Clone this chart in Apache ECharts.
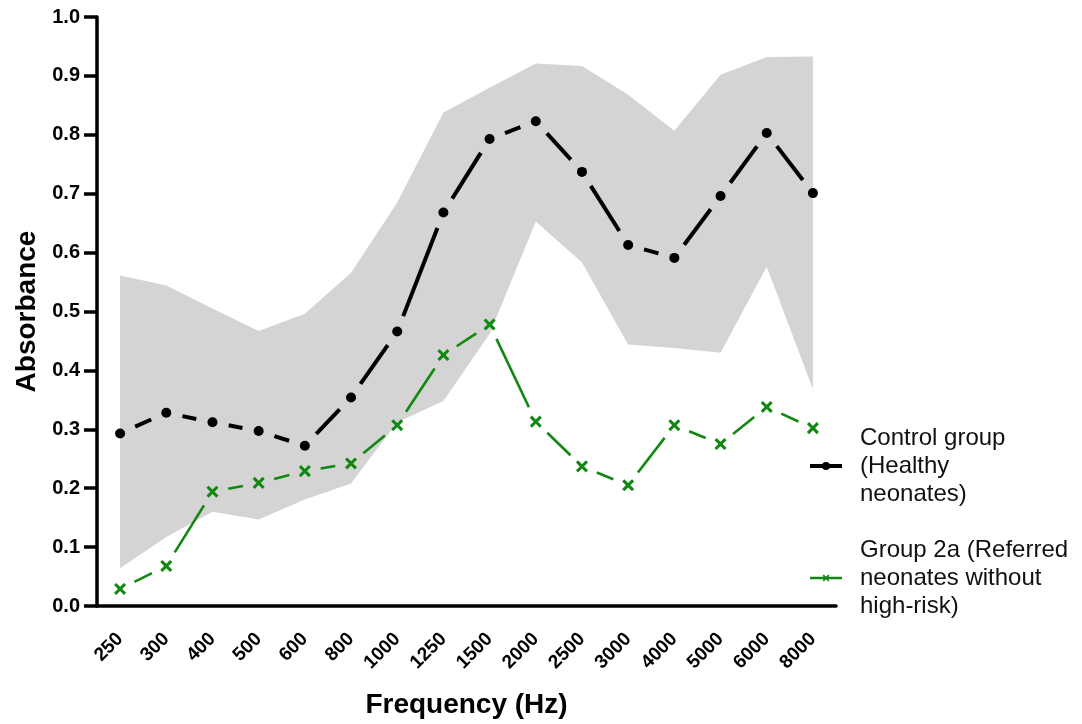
<!DOCTYPE html>
<html>
<head>
<meta charset="utf-8">
<script src="https://cdn.jsdelivr.net/npm/echarts@6/dist/echarts.min.js"></script>
<style>
  html, body { margin: 0; padding: 0; background: #fff; }
  #chart { width: 1082px; height: 724px; }
</style>
</head>
<body>
<div id="chart"></div>
<script>
// Frequencies (Hz)
const frequencies = ['250', '300', '400', '500', '600', '800', '1000', '1250', '1500',
  '2000', '2500', '3000', '4000', '5000', '6000', '8000'];

// Mean absorbance, control group (healthy neonates)
const controlMean = [0.293, 0.328, 0.312, 0.297, 0.272, 0.354, 0.466, 0.668, 0.793,
  0.823, 0.737, 0.613, 0.591, 0.696, 0.803, 0.701];

// Normative range of the control group (shaded band)
const controlUpper = [0.561, 0.544, 0.505, 0.467, 0.496, 0.566, 0.685, 0.838, 0.880,
  0.921, 0.917, 0.868, 0.807, 0.902, 0.932, 0.933];
const controlLower = [0.064, 0.117, 0.160, 0.147, 0.181, 0.208, 0.312, 0.348, 0.462,
  0.653, 0.583, 0.444, 0.438, 0.430, 0.576, 0.368];

// Mean absorbance, group 2a (referred neonates without high-risk)
const group2aMean = [0.029, 0.068, 0.194, 0.209, 0.229, 0.242, 0.307, 0.426, 0.478,
  0.313, 0.237, 0.205, 0.307, 0.275, 0.338, 0.302];

const yTicks = [0, 0.1, 0.2, 0.3, 0.4, 0.5, 0.6, 0.7, 0.8, 0.9, 1.0];

const FONT = "'Liberation Sans', Arial, Helvetica, sans-serif";
const CONTROL_NAME = 'Control group (Healthy neonates)';
const GROUP_NAME = 'Group 2a (Referred neonates without high-risk)';
const legendText = {};
legendText[CONTROL_NAME] = 'Control group\n(Healthy\nneonates)';
legendText[GROUP_NAME] = 'Group 2a (Referred\nneonates without\nhigh-risk)';

const GREEN = '#118811';
const BAND = '#d4d4d4';
// a plus-shaped outline; rotated 45° it becomes an "x" marker
const CROSS = 'path://M3.9,0L6.1,0L6.1,3.9L10,3.9L10,6.1L6.1,6.1L6.1,10L3.9,10L3.9,6.1L0,6.1L0,3.9L3.9,3.9Z';

// segment data: each item joins point i to point i+1
function segments(vals) {
  const out = [];
  for (let i = 0; i < vals.length - 1; i++) out.push([i, vals[i], vals[i + 1]]);
  return out;
}

// Draws the connecting segment between two points, leaving a gap around each marker
function gappedSegment(gap, color, width) {
  return function (params, api) {
    const i = api.value(0);
    const p0 = api.coord([i, api.value(1)]);
    const p1 = api.coord([i + 1, api.value(2)]);
    const dx = p1[0] - p0[0], dy = p1[1] - p0[1];
    const len = Math.sqrt(dx * dx + dy * dy);
    if (len <= 2 * gap) return null;
    const ux = dx / len, uy = dy / len;
    return {
      type: 'line',
      shape: {
        x1: p0[0] + ux * gap, y1: p0[1] + uy * gap,
        x2: p1[0] - ux * gap, y2: p1[1] - uy * gap
      },
      style: { stroke: color, lineWidth: width, lineCap: 'butt' }
    };
  };
}

const bandDiff = controlUpper.map((u, i) => +(u - controlLower[i]).toFixed(3));

const chart = echarts.init(document.getElementById('chart'), null, { renderer: 'canvas' });

chart.setOption({
  animation: false,
  backgroundColor: '#ffffff',
  textStyle: { fontFamily: FONT },
  grid: { left: 97, right: 246, top: 17, bottom: 117, containLabel: false },
  legend: {
    orient: 'vertical',
    left: 808,
    top: 424,
    padding: 0,
    itemGap: 28,
    itemWidth: 32,
    itemHeight: 10,
    selectedMode: false,
    formatter: name => legendText[name],
    textStyle: {
      fontFamily: FONT,
      fontSize: 24,
      lineHeight: 28,
      color: '#111',
      padding: [0, 0, 0, 13]
    },
    data: [
      { name: CONTROL_NAME, lineStyle: { color: '#000', width: 4, opacity: 1 }, itemStyle: { color: '#000' } },
      { name: GROUP_NAME, lineStyle: { color: GREEN, width: 2.5, opacity: 1 }, itemStyle: { color: GREEN } }
    ]
  },
  xAxis: {
    type: 'category',
    data: frequencies,
    boundaryGap: true,
    name: 'Frequency (Hz)',
    nameLocation: 'middle',
    nameGap: 85,
    nameTextStyle: { fontFamily: FONT, fontSize: 28, fontWeight: 'bold', color: '#000' },
    axisLine: { lineStyle: { color: '#000', width: 3.5 } },
    axisTick: { alignWithLabel: true, length: 13, lineStyle: { color: '#000', width: 3.5 } },
    axisLabel: {
      rotate: 45,
      margin: 30,
      fontFamily: FONT,
      fontSize: 19,
      fontWeight: 'bold',
      color: '#000'
    },
    splitLine: { show: false }
  },
  yAxis: {
    type: 'value',
    min: 0,
    max: 1,
    interval: 0.1,
    name: 'Absorbance',
    nameLocation: 'middle',
    nameGap: 54,
    nameTextStyle: { fontFamily: FONT, fontSize: 28, fontWeight: 'bold', color: '#000' },
    axisLine: { show: true, lineStyle: { color: '#000', width: 3.5 } },
    axisTick: { show: true, length: 13, lineStyle: { color: '#000', width: 3.5 } },
    axisLabel: {
      margin: 17,
      fontFamily: FONT,
      fontSize: 20,
      fontWeight: 'bold',
      color: '#000',
      formatter: v => {
        const t = yTicks.find(k => Math.abs(k - v) < 1e-9);
        return (t !== undefined ? t : v).toFixed(1);
      }
    },
    splitLine: { show: false }
  },
  series: [
    // shaded normative band: transparent lower bound + stacked range
    {
      name: 'band-lower',
      type: 'line',
      stack: 'band',
      data: controlLower,
      symbol: 'none',
      lineStyle: { width: 0, opacity: 0 },
      silent: true,
      z: 1
    },
    {
      name: 'band-range',
      type: 'line',
      stack: 'band',
      data: bandDiff,
      symbol: 'none',
      lineStyle: { width: 0, opacity: 0 },
      areaStyle: { color: BAND, opacity: 1 },
      silent: true,
      z: 1
    },
    // group 2a markers
    {
      name: GROUP_NAME,
      type: 'line',
      data: group2aMean,
      symbol: CROSS,
      symbolSize: 14,
      symbolRotate: 45,
      lineStyle: { width: 0, opacity: 0 },
      itemStyle: { color: GREEN },
      z: 4
    },
    // control group markers
    {
      name: CONTROL_NAME,
      type: 'line',
      data: controlMean,
      symbol: 'circle',
      symbolSize: 10,
      lineStyle: { width: 0, opacity: 0 },
      itemStyle: { color: '#000' },
      z: 6
    },
    // connecting segments
    {
      name: GROUP_NAME,
      type: 'custom',
      renderItem: gappedSegment(16, GREEN, 2.6),
      data: segments(group2aMean),
      encode: { x: 0, y: [1, 2] },
      silent: true,
      z: 3
    },
    {
      name: CONTROL_NAME,
      type: 'custom',
      renderItem: gappedSegment(16.5, '#000', 4),
      data: segments(controlMean),
      encode: { x: 0, y: [1, 2] },
      silent: true,
      z: 5
    }
  ]
});
</script>
</body>
</html>
